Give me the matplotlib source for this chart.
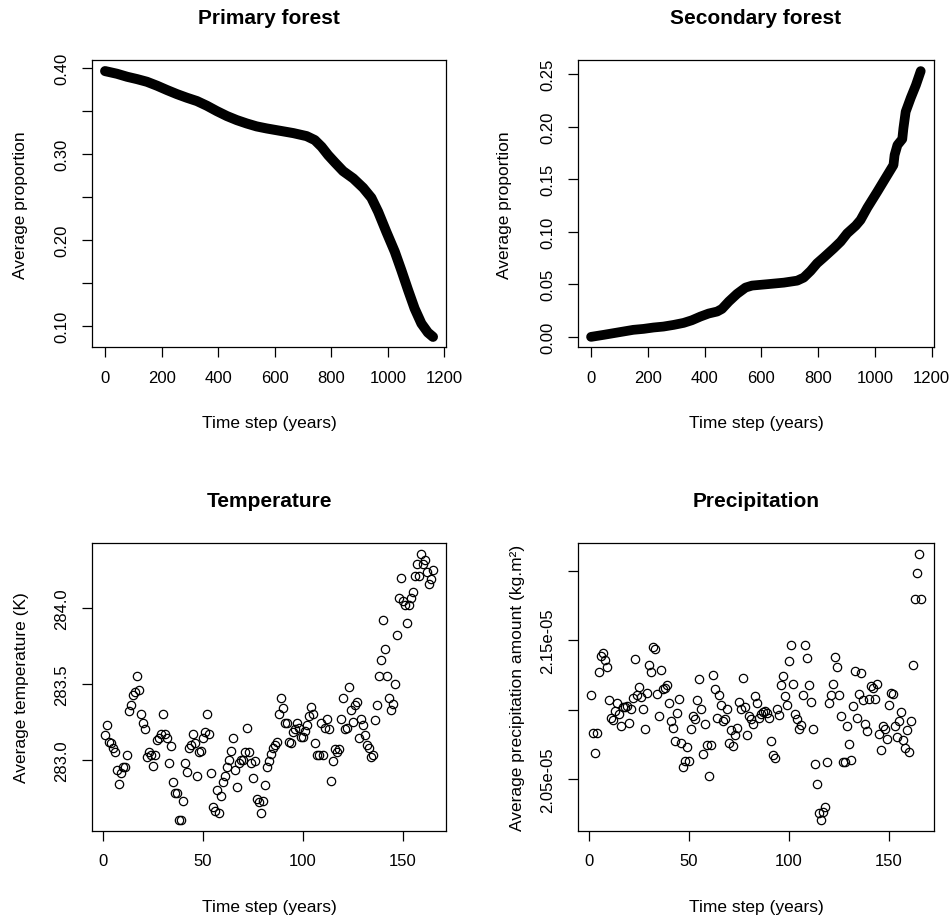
import numpy as np
from matplotlib import pyplot as plt

# Forest cover, mean over runs.
primary_years = [0, 42, 78, 113, 148, 184, 219, 254, 289, 325, 360, 395, 431,
                 466, 501, 536, 572, 619, 666, 713, 742, 766, 789, 813, 842,
                 878, 913, 942, 966, 995, 1025, 1048, 1072, 1095, 1119, 1142,
                 1160]
primary_prop = [0.3961, 0.3930, 0.3895, 0.3868, 0.3837, 0.3791, 0.3741,
                0.3694, 0.3652, 0.3613, 0.3559, 0.3497, 0.3439, 0.3392,
                0.3353, 0.3319, 0.3295, 0.3268, 0.3241, 0.3206, 0.3160,
                0.3082, 0.2986, 0.2900, 0.2800, 0.2715, 0.2606, 0.2490,
                0.2328, 0.2095, 0.1863, 0.1650, 0.1418, 0.1205, 0.1031,
                0.0926, 0.0876]
secondary_years = [0, 44, 79, 114, 149, 185, 220, 255, 291, 326, 355, 385,
                   414, 444, 461, 485, 514, 544, 567, 620, 679, 726, 749, 773,
                   796, 820, 855, 879, 902, 932, 949, 973, 1008, 1038, 1065,
                   1069, 1079, 1096, 1100, 1108, 1126, 1144, 1161]
secondary_prop = [0.0, 0.0019, 0.0035, 0.0051, 0.0067, 0.0076, 0.0089,
                  0.0098, 0.0114, 0.0133, 0.0158, 0.0193, 0.0222, 0.0241,
                  0.0266, 0.0336, 0.0409, 0.0469, 0.0488, 0.0501, 0.0516,
                  0.0535, 0.0564, 0.0627, 0.0700, 0.0757, 0.0843, 0.0906,
                  0.0985, 0.1058, 0.1112, 0.1229, 0.1381, 0.1515, 0.1635,
                  0.1730, 0.1825, 0.1882, 0.1984, 0.2142, 0.2275, 0.2395,
                  0.2529]

# Climate forcing per time step.
temperature = [
    283.16, 283.23, 283.12, 283.11, 283.08, 283.05, 282.93, 282.84, 282.91, 282.95,
    282.95, 283.03, 283.32, 283.36, 283.43, 283.45, 283.55, 283.46, 283.30, 283.24,
    283.20, 283.02, 283.05, 283.03, 282.96, 283.03, 283.13, 283.14, 283.17, 283.30,
    283.17, 283.14, 282.98, 283.09, 282.85, 282.78, 282.78, 282.60, 282.60, 282.73,
    282.98, 282.92, 283.08, 283.10, 283.17, 283.11, 282.89, 283.05, 283.06, 283.14,
    283.18, 283.30, 283.17, 282.91, 282.69, 282.66, 282.80, 282.65, 282.76, 282.85,
    282.89, 282.95, 283.00, 283.06, 283.14, 282.93, 282.82, 282.98, 283.00, 283.00,
    283.05, 283.21, 283.05, 282.98, 282.88, 282.99, 282.74, 282.72, 282.65, 282.73,
    282.83, 282.95, 282.99, 283.04, 283.08, 283.10, 283.12, 283.30, 283.41, 283.34,
    283.24, 283.24, 283.12,
    283.11, 283.18, 283.20, 283.24, 283.21, 283.15, 283.15, 283.19, 283.23, 283.29,
    283.35, 283.30, 283.11, 283.03, 283.03, 283.24, 283.03, 283.21, 283.27, 283.20,
    282.86, 282.99, 283.07, 283.05, 283.07, 283.27, 283.41, 283.20, 283.21, 283.48,
    283.33, 283.25, 283.36, 283.38, 283.14, 283.27, 283.23, 283.16, 283.10, 283.08,
    283.02, 283.03, 283.26, 283.36, 283.55, 283.66, 283.92, 283.73, 283.55, 283.41,
    283.33, 283.37, 283.50, 283.82, 284.07, 284.20, 284.05, 284.02, 283.90, 284.02,
    284.07, 284.11, 284.21, 284.29, 284.21, 284.36, 284.29, 284.32, 284.24, 284.16,
    284.19, 284.25]
# Precipitation in units of 1e-05.
precipitation = [
    2.1107, 2.0836, 2.0692, 2.0836, 2.1272, 2.1387, 2.1411, 2.1359, 2.1308, 2.1068,
    2.0944, 2.0924, 2.0989, 2.1052, 2.0968, 2.0884, 2.1020, 2.1020, 2.1028, 2.0905,
    2.1004, 2.1088, 2.1363, 2.1104, 2.1164, 2.1092, 2.1004, 2.0860, 2.1124, 2.1320,
    2.1275, 2.1454, 2.1435, 2.1116, 2.0956, 2.1287, 2.1152, 2.1159, 2.1176, 2.1052,
    2.0920, 2.0872, 2.0776, 2.0980, 2.1080, 2.0764, 2.0589, 2.0632, 2.0735, 2.0632,
    2.0860, 2.0956, 2.0932, 2.1068, 2.1219, 2.1004, 2.0680, 2.0896, 2.0747, 2.0524,
    2.0747, 2.1251, 2.1147, 2.0944, 2.1104, 2.1037, 2.0920, 2.0932, 2.1008, 2.0764,
    2.0858, 2.0740, 2.0819, 2.0869, 2.1059, 2.1004, 2.1231, 2.1020, 2.0819, 2.0956,
    2.0932, 2.0896, 2.1100, 2.1052, 2.0944, 2.0968, 2.0985, 2.0992, 2.0980, 2.0944,
    2.0778, 2.0673, 2.0656, 2.1008, 2.0963, 2.1176, 2.1243, 2.1100, 2.1035, 2.1351,
    2.1464, 2.1183, 2.0972, 2.0932, 2.0860, 2.0891, 2.1109, 2.1464, 2.1375, 2.1176,
    2.1059, 2.0860, 2.0608, 2.0464, 2.0255, 2.0205, 2.0267, 2.0303, 2.0625, 2.1052,
    2.1107, 2.1183, 2.1382, 2.1311, 2.1107, 2.0956, 2.0627, 2.0625, 2.0884, 2.0752,
    2.0639, 2.1028, 2.1277, 2.0944, 2.1112, 2.1265, 2.1071, 2.0900, 2.0848, 2.1076,
    2.1171, 2.1155, 2.1076, 2.1188, 2.0829, 2.0709, 2.0884, 2.0865, 2.0793, 2.1035,
    2.1119, 2.1112, 2.0884, 2.0807, 2.0920, 2.0987, 2.0781, 2.0723, 2.0853, 2.0699,
    2.0920, 2.1320, 2.1800, 2.1987, 2.2124, 2.1800]

# Global font settings.
plt.rcParams['font.family'] = ['Liberation Sans', 'DejaVu Sans']
plt.rcParams['axes.linewidth'] = 0.9

fig = plt.figure(figsize=(9.52, 9.20), dpi=100)
# Panel boxes in figure fractions.
ax_pf = fig.add_axes([0.0966, 0.6212, 0.372, 0.312])
ax_sf = fig.add_axes([0.607, 0.6212, 0.374, 0.312])
ax_t = fig.add_axes([0.0966, 0.0957, 0.372, 0.313])
ax_p = fig.add_axes([0.607, 0.0957, 0.374, 0.313])


def style_axes(ax, title, ylab, ylab_x):
    # Base-graphics look: boxed panel, outward ticks, rotated y labels.
    ax.margins(0.04)
    ax.tick_params(direction='out', length=7.2, width=0.9, labelsize=12)
    ax.tick_params(axis='x', pad=9)
    ax.tick_params(axis='y', pad=9, labelrotation=90)
    for lab in ax.get_yticklabels():
        lab.set_verticalalignment('center')
    ax.set_title(title, fontsize=15, fontweight='bold', y=1.148, pad=0,
                 va='center')
    ax.set_xlabel('Time step (years)', fontsize=12.5)
    ax.xaxis.set_label_coords(0.5, -0.262)
    ax.xaxis.label.set_verticalalignment('center')
    ax.set_ylabel(ylab, fontsize=12.5)
    ax.yaxis.set_label_coords(ylab_x, 0.5)
    ax.yaxis.label.set_verticalalignment('center')


# Forest cover curves.
ax_pf.plot(primary_years, primary_prop, color='black', linewidth=7.2,
           solid_capstyle='round', solid_joinstyle='round')
ax_pf.set_xticks(np.arange(0, 1201, 200))
ax_pf.set_yticks([0.10, 0.15, 0.20, 0.25, 0.30, 0.35, 0.40])
ax_pf.set_yticklabels(['0.10', '', '0.20', '', '0.30', '', '0.40'])
style_axes(ax_pf, 'Primary forest', 'Average proportion', -0.203)

ax_sf.plot(secondary_years, secondary_prop, color='black', linewidth=7.0,
           solid_capstyle='round', solid_joinstyle='round')
ax_sf.set_xticks(np.arange(0, 1201, 200))
ax_sf.set_yticks(np.arange(0, 0.26, 0.05))
ax_sf.set_yticklabels(['0.00', '0.05', '0.10', '0.15', '0.20', '0.25'])
style_axes(ax_sf, 'Secondary forest', 'Average proportion', -0.205)

# Climate scatter plots.
steps_t = np.arange(1, len(temperature) + 1)
ax_t.plot(steps_t, temperature, 'o', mfc='none', mec='black', ms=6, mew=0.9)
ax_t.set_xticks([0, 50, 100, 150])
ax_t.set_yticks([283.0, 283.5, 284.0])
ax_t.set_yticklabels(['283.0', '283.5', '284.0'])
style_axes(ax_t, 'Temperature', 'Average temperature (K)', -0.198)

steps_p = np.arange(1, len(precipitation) + 1)
ax_p.plot(steps_p, np.array(precipitation) * 1e-5, 'o', mfc='none',
          mec='black', ms=6, mew=0.9)
ax_p.set_xticks([0, 50, 100, 150])
ax_p.set_yticks([2.05e-05, 2.10e-05, 2.15e-05, 2.20e-05])
ax_p.set_yticklabels(['2.05e-05', '', '2.15e-05', ''])
style_axes(ax_p, 'Precipitation', 'Average precipitation amount (kg.m²)',
           -0.169)

fig.savefig('out.png', dpi=100)
plt.close(fig)
